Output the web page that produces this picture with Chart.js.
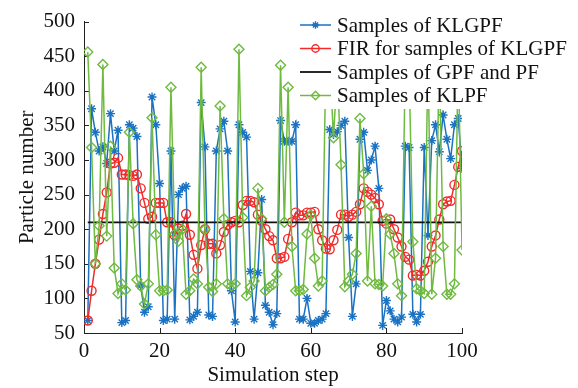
<!DOCTYPE html>
<html>
<head>
<meta charset="utf-8">
<script src="https://cdn.jsdelivr.net/npm/chart.js@4.4.1/dist/chart.umd.min.js"></script>
<style>
html,body{margin:0;padding:0;background:#ffffff;}
#wrap{width:578px;height:388px;position:relative;}
</style>
</head>
<body>
<div id="wrap"><canvas id="c" width="578" height="388"></canvas></div>
<script>
// ---------------- data ----------------
const steps = [1,2,3,4,5,6,7,8,9,10,11,12,13,14,15,16,17,18,19,20,
  21,22,23,24,25,26,27,28,29,30,31,32,33,34,35,36,37,38,39,40,
  41,42,43,44,45,46,47,48,49,50,51,52,53,54,55,56,57,58,59,60,
  61,62,63,64,65,66,67,68,69,70,71,72,73,74,75,76,77,78,79,80,
  81,82,83,84,85,86,87,88,89,90,91,92,93,94,95,96,97,98,99,100];

const klgpfSamples = [68,374,340,313,319,295,367,313,343,65,
  68,351,346,334,118,80,88,391,351,266,
  68,70,313,70,250,259,262,69,74,80,
  383,319,76,74,313,345,356,313,111,66,
  351,340,333,139,70,137,243,90,80,62,
  78,357,327,327,327,351,70,70,100,64,
  64,68,70,78,344,337,341,350,356,188,
  74,121,330,340,285,300,320,259,61,97,
  82,70,66,73,320,318,77,66,77,318,
  191,328,351,312,365,330,302,351,360,288];

const firSamples = [68,111,150,185,222,253,295,296,303,279,
  279,278,277,279,259,238,215,218,238,238,
  238,210,210,191,201,205,222,192,163,143,
  177,200,179,179,165,177,196,206,210,212,
  210,235,241,241,239,221,212,200,190,184,
  158,158,160,186,210,224,220,220,224,224,
  225,200,184,172,171,184,199,221,221,218,
  221,225,236,259,254,250,245,236,212,208,
  214,200,188,175,160,156,133,134,133,140,
  153,175,191,214,236,240,241,264,290,313];

const gpfSteps = [1,100];
const gpfSamples = [210,210];

const klpfSamples = [456,318,150,205,438,190,320,144,107,121,
  112,340,208,127,118,92,121,361,192,111,
  111,112,405,193,183,200,106,111,128,121,
  434,200,116,110,121,378,215,121,118,121,
  460,217,104,116,125,259,215,111,116,120,
  135,437,210,405,175,111,111,113,193,220,
  158,118,125,450,445,332,430,293,117,125,
  135,165,360,280,125,233,121,120,118,215,
  193,165,121,104,440,430,182,114,111,107,
  450,106,158,450,175,106,106,121,450,170];

const seriesNames = ['Samples of KLGPF','FIR for samples of KLGPF','Samples of GPF and PF','Samples of KLPF'];
const xTickValues = [0,20,40,60,80,100];
const yTickValues = [50,100,150,200,250,300,350,400,450,500];

// ---------------- helpers ----------------
const FONT = '"Liberation Serif", "Times New Roman", serif';
function pts(xs, ys){ return xs.map((x,i)=>({x:x, y:ys[i]})); }

const BLUE = '#1a72c2';
const RED = '#f22a2a';
const BLACK = '#111111';
const GREEN = '#6fba40';

const innerTicks = {
  id: 'innerTicks',
  beforeDatasetsDraw(chart){
    const ctx = chart.ctx;
    const xs = chart.scales.x, ys = chart.scales.y;
    const a = chart.chartArea;
    ctx.save();
    ctx.strokeStyle = '#222';
    ctx.lineWidth = 1;
    ctx.beginPath();
    xTickValues.forEach(v=>{
      const px = Math.round(xs.getPixelForValue(v))+0.5;
      ctx.moveTo(px, a.bottom); ctx.lineTo(px, a.bottom-5);
    });
    yTickValues.forEach(v=>{
      const py = Math.round(ys.getPixelForValue(v))+0.5;
      ctx.moveTo(a.left, py); ctx.lineTo(a.left+5, py);
    });
    ctx.stroke();
    ctx.restore();
  }
};

const overlayLegend = {
  id: 'overlayLegend',
  afterDatasetsDraw(chart){
    const ctx = chart.ctx;
    ctx.save();
    ctx.fillStyle = '#ffffff';
    ctx.fillRect(296, 6, 278, 103);
    const rows = [25, 48.5, 72, 95.5];
    const x0 = 300, x1 = 331, tx = 337;
    chart.data.datasets.forEach((ds, i)=>{
      const y = rows[i];
      ctx.strokeStyle = ds.borderColor;
      ctx.lineWidth = ds.borderWidth;
      ctx.beginPath(); ctx.moveTo(x0, y); ctx.lineTo(x1, y); ctx.stroke();
      if (ds.pointRadius > 0) {
        ctx.fillStyle = 'rgba(0,0,0,0)';
        ctx.strokeStyle = ds.pointBorderColor || ds.borderColor;
        ctx.lineWidth = ds.pointBorderWidth || 1;
        Chart.helpers.drawPoint(ctx, {pointStyle: ds.pointStyle, radius: ds.pointRadius-0.8, rotation: 0, borderWidth: ds.pointBorderWidth || 1}, (x0+x1)/2, y);
      }
      ctx.fillStyle = '#111';
      ctx.font = '21px ' + FONT;
      ctx.textBaseline = 'middle';
      ctx.textAlign = 'left';
      ctx.fillText(ds.label, tx, y+1);
    });
    ctx.restore();
  }
};

new Chart(document.getElementById('c'), {
  type: 'line',
  data: {
    datasets: [
      { label: seriesNames[0], data: pts(steps, klgpfSamples), borderColor: BLUE, backgroundColor: 'rgba(0,0,0,0)',
        borderWidth: 1.5, pointStyle: 'star', pointRadius: 4.5, pointBorderWidth: 1.4, pointBorderColor: BLUE,
        pointBackgroundColor: 'rgba(0,0,0,0)', order: 3, tension: 0 },
      { label: seriesNames[1], data: pts(steps, firSamples), borderColor: RED, backgroundColor: 'rgba(0,0,0,0)',
        borderWidth: 1.5, pointStyle: 'circle', pointRadius: 4.5, pointBorderWidth: 1.4, pointBorderColor: RED,
        pointBackgroundColor: 'rgba(0,0,0,0)', order: 2, tension: 0 },
      { label: seriesNames[2], data: pts(gpfSteps, gpfSamples), borderColor: BLACK, backgroundColor: 'rgba(0,0,0,0)',
        borderWidth: 1.8, pointRadius: 0, order: 1, tension: 0 },
      { label: seriesNames[3], data: pts(steps, klpfSamples), borderColor: GREEN, backgroundColor: 'rgba(0,0,0,0)',
        borderWidth: 1.5, pointStyle: 'rectRot', pointRadius: 5, pointBorderWidth: 1.4, pointBorderColor: GREEN,
        pointBackgroundColor: 'rgba(0,0,0,0)', order: 0, tension: 0 }
    ]
  },
  options: {
    responsive: false,
    animation: false,
    devicePixelRatio: 1,
    layout: { padding: { left: 0, right: 116, top: 15, bottom: 0 } },
    plugins: { legend: { display: false }, tooltip: { enabled: false } },
    scales: {
      x: {
        type: 'linear', min: 0, max: 100,
        afterBuildTicks: s => { s.ticks = xTickValues.map(v=>({value:v})); },
        ticks: { font: { family: FONT, size: 21 }, color: '#111', padding: 6, maxRotation: 0, autoSkip: false },
        grid: { display: false, drawTicks: false },
        border: { display: true, color: '#222', width: 1 },
        title: { display: true, text: 'Simulation step', font: { family: FONT, size: 21 }, color: '#111', padding: { top: 0, bottom: 0 } },
        afterFit: s => { s.height = 55; }
      },
      y: {
        type: 'linear', min: 50, max: 500,
        afterBuildTicks: s => { s.ticks = yTickValues.map(v=>({value:v})); },
        ticks: { font: { family: FONT, size: 21 }, color: '#111', padding: 9, autoSkip: false },
        grid: { display: false, drawTicks: false },
        border: { display: true, color: '#222', width: 1 },
        title: { display: true, text: 'Particle number', font: { family: FONT, size: 21 }, color: '#111', padding: { top: 15, bottom: 0 } },
        afterFit: s => { s.width = 84; }
      }
    }
  },
  plugins: [innerTicks, overlayLegend]
});
</script>
</body>
</html>
